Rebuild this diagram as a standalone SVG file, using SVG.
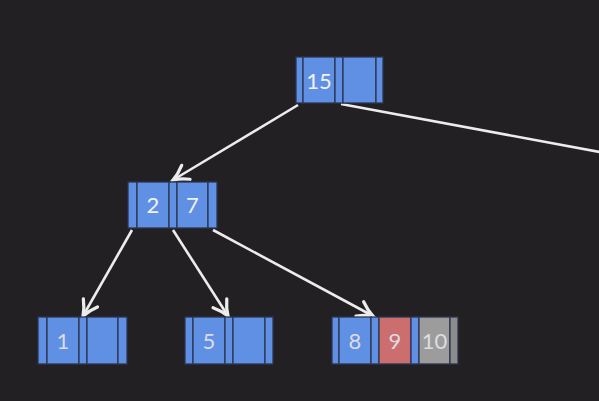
<svg xmlns="http://www.w3.org/2000/svg" width="599" height="401" viewBox="0 0 599 401">
<defs>
<style>
.b{fill:#5f90e4;stroke:#2b3550;stroke-width:1.3}
.r{fill:#cc6e6e;stroke:#2b3550;stroke-width:1.3}
.g{fill:#9c9c9c;stroke:#2b3550;stroke-width:1.3}
.gs{fill:#8c8c8c;stroke:#2b3550;stroke-width:1.3}
.t{font-family:Lato,"Open Sans",sans-serif;font-size:22px;fill:#f2f2f2;text-anchor:middle}
.tl{fill:#dcdce4}
.e{stroke:#ececec;stroke-width:2.6;fill:none}
</style>
<marker id="ah" markerUnits="userSpaceOnUse" markerWidth="20" markerHeight="20" viewBox="-14 -8 16 16" refX="0" refY="0" orient="auto">
<path d="M-12,-6.5 Q-6,-2 0,0 Q-6,2 -12,6.5" fill="none" stroke="#ececec" stroke-width="2.6" stroke-linecap="round" stroke-linejoin="miter"/>
</marker>
</defs>
<rect width="599" height="401" fill="#222022"/>
<g id="connectors">
<line class="e" x1="298" y1="105" x2="173" y2="180" marker-end="url(#ah)"/>
<line class="e" x1="341" y1="104" x2="605" y2="153"/>
<line class="e" x1="132" y1="230" x2="83" y2="316" marker-end="url(#ah)"/>
<line class="e" x1="173" y1="230" x2="228" y2="316" marker-end="url(#ah)"/>
<line class="e" x1="213" y1="230" x2="373" y2="316" marker-end="url(#ah)"/>
</g>
<g id="node15">
<rect class="b" x="296" y="57" width="7" height="46"/>
<rect class="b" x="303" y="57" width="32" height="46"/>
<rect class="b" x="335" y="57" width="8" height="46"/>
<rect class="b" x="343" y="57" width="33" height="46"/>
<rect class="b" x="376" y="57" width="7" height="46"/>
<text class="t" x="319" y="89">15</text>
</g>
<g id="node2_7">
<rect class="b" x="128" y="182" width="9" height="46"/>
<rect class="b" x="137" y="182" width="32" height="46"/>
<rect class="b" x="169" y="182" width="8" height="46"/>
<rect class="b" x="177" y="182" width="31" height="46"/>
<rect class="b" x="208" y="182" width="9" height="46"/>
<text class="t" x="153" y="213">2</text>
<text class="t" x="192.5" y="213">7</text>
</g>
<g id="node1">
<rect class="b" x="38" y="317" width="9" height="47"/>
<rect class="b" x="47" y="317" width="32" height="47"/>
<rect class="b" x="79" y="317" width="8" height="47"/>
<rect class="b" x="87" y="317" width="31" height="47"/>
<rect class="b" x="118" y="317" width="9" height="47"/>
<text class="t tl" x="63" y="349">1</text>
</g>
<g id="node5">
<rect class="b" x="185" y="317" width="8" height="47"/>
<rect class="b" x="193" y="317" width="32" height="47"/>
<rect class="b" x="225" y="317" width="8" height="47"/>
<rect class="b" x="233" y="317" width="32" height="47"/>
<rect class="b" x="265" y="317" width="8" height="47"/>
<text class="t tl" x="209" y="349">5</text>
</g>
<g id="node8_9_10">
<rect class="b" x="332" y="317" width="7" height="47"/>
<rect class="b" x="339" y="317" width="32" height="47"/>
<rect class="b" x="371" y="317" width="8" height="47"/>
<rect class="r" x="379" y="317" width="32" height="47"/>
<rect class="b" x="411" y="317" width="8" height="47"/>
<rect class="g" x="419" y="317" width="31" height="47"/>
<rect class="gs" x="450" y="317" width="8" height="47"/>
<text class="t tl" x="355" y="349">8</text>
<text class="t tl" x="395" y="349">9</text>
<text class="t tl" x="434.5" y="349">10</text>
</g>
</svg>
